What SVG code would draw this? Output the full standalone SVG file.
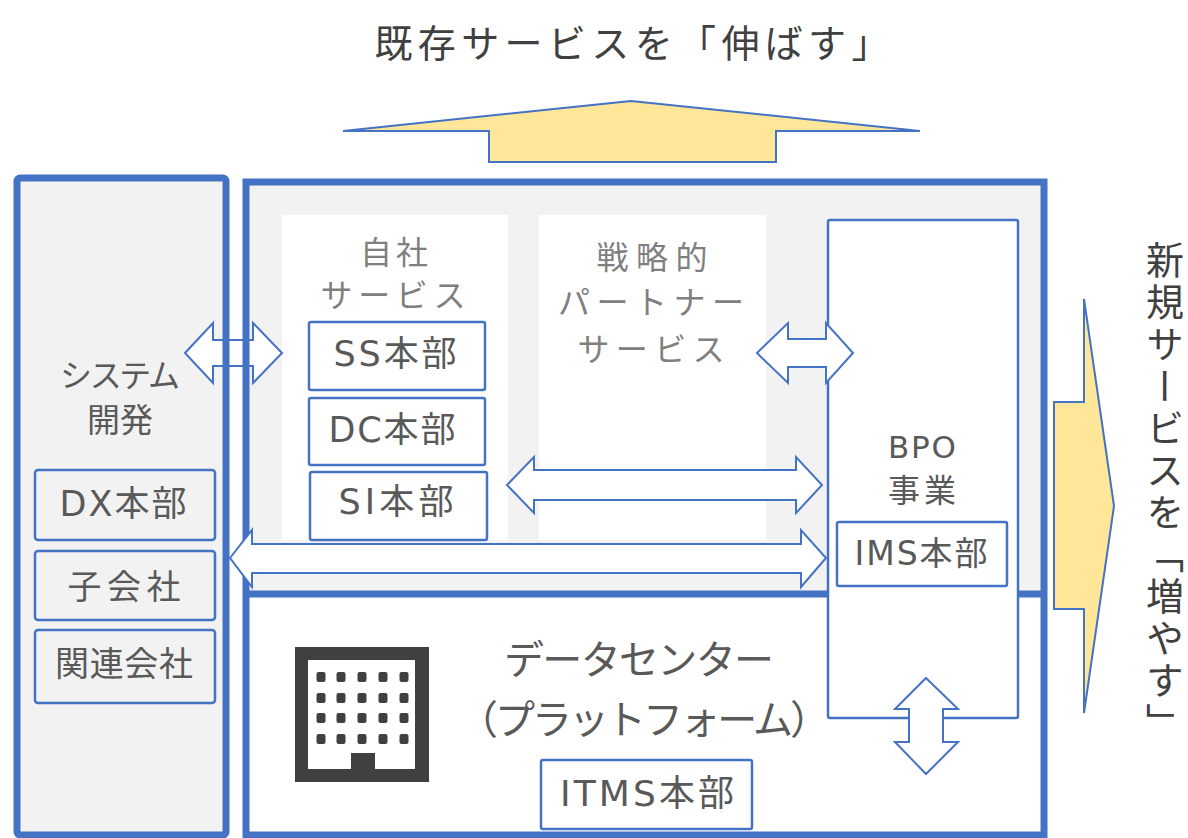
<svg xmlns="http://www.w3.org/2000/svg" width="1188" height="838" viewBox="0 0 1188 838">
<style>
text{font-family:"Noto Sans CJK JP","Noto Sans",sans-serif;text-anchor:middle;dominant-baseline:central}
.lat{font-family:"DejaVu Sans","Noto Sans CJK JP",sans-serif}
.frame{fill:none;stroke:#4472C4;stroke-width:7}
.box{stroke:#4472C4;stroke-width:2.5}
.wbox{fill:#fff}
.gbox{fill:#f2f2f2}
.lbl{fill:#595959;font-size:33px}
.hdr{fill:#7f7f7f;font-size:32px}
.dbl{fill:#fff;stroke:#4472C4;stroke-width:2}
.yel{fill:#FFE699;stroke:#4472C4;stroke-width:2;stroke-linejoin:miter}
.dot{fill:#404040}
</style>
<rect width="1188" height="838" fill="#fff"/>

<g id="title">
<text x="632" y="40" style="font-size:38px;fill:#404040" textLength="515" lengthAdjust="spacing">既存サービスを「伸ばす」</text>
</g>

<g id="system-dev">
<rect x="17" y="178" width="209" height="657" rx="3" fill="#f2f2f2"/>
</g>

<g id="platform-bg">
<rect x="246" y="182" width="798" height="412" fill="#f2f2f2"/>
<rect x="246" y="594" width="798" height="241" fill="#fff"/>
</g>

<g id="conn-a1-fill">
<polygon points="185,353 213,323 213,340 222.5,340 222.5,366 213,366 213,383" fill="#fff"/>
<polygon points="249.5,340 253,340 253,323 282,353 253,383 253,366 249.5,366" fill="#fff"/>
</g>

<g id="system-dev-frame">
<rect x="17" y="178" width="209" height="657" rx="3" class="frame"/>
<text x="120" y="373" class="lbl" style="font-size:32px" textLength="120" lengthAdjust="spacing">システム</text>
<text x="120" y="418" class="lbl" style="font-size:33px">開発</text>
</g>

<g id="dx">
<rect x="35" y="470" width="180" height="70" rx="3" class="box gbox"/>
<text x="123" y="504" class="lbl lat" style="font-size:35px" textLength="127" lengthAdjust="spacing">DX本部</text>
</g>
<g id="subsidiary">
<rect x="35" y="551" width="180" height="69" rx="3" class="box gbox"/>
<text x="124" y="584" class="lbl" style="font-size:34px" textLength="113" lengthAdjust="spacing">子会社</text>
</g>
<g id="affiliate">
<rect x="35" y="630" width="180" height="73" rx="3" class="box gbox"/>
<text x="124" y="661" class="lbl" style="font-size:34px" textLength="138" lengthAdjust="spacing">関連会社</text>
</g>

<g id="platform-frame">
<rect x="246" y="182" width="798" height="653" class="frame"/>
<line x1="246" y1="594" x2="1044" y2="594" stroke="#4472C4" stroke-width="7"/>
</g>

<g id="own-service">
<rect x="282" y="215" width="226" height="325" fill="#fff"/>
<text x="396" y="250" class="hdr" style="letter-spacing:4px">自社</text>
<text x="393" y="293" class="hdr" textLength="145" lengthAdjust="spacing">サービス</text>
</g>

<g id="ss">
<rect x="309" y="322" width="176" height="68" rx="2" class="box wbox"/>
<text x="395" y="354" class="lbl lat" style="font-size:35px" textLength="123" lengthAdjust="spacing">SS本部</text>
</g>
<g id="dc">
<rect x="309" y="398" width="176" height="67" rx="2" class="box wbox"/>
<text x="392" y="430" class="lbl lat" style="font-size:35px" textLength="127" lengthAdjust="spacing">DC本部</text>
</g>
<g id="si">
<rect x="310" y="472" width="177" height="68" rx="2" class="box wbox"/>
<text x="396" y="502" class="lbl lat" style="font-size:35px" textLength="115" lengthAdjust="spacing">SI本部</text>
</g>

<g id="partner-service">
<rect x="539" y="215" width="227" height="325" fill="#fff"/>
<text x="652" y="255" class="hdr" textLength="111" lengthAdjust="spacing">戦略的</text>
<text x="651" y="300" class="hdr" textLength="186" lengthAdjust="spacing">パートナー</text>
<text x="651" y="347" class="hdr" textLength="147" lengthAdjust="spacing">サービス</text>
</g>

<g id="bpo">
<rect x="828" y="220" width="190" height="498" rx="2" class="box wbox"/>
<text x="922" y="447" class="lbl lat" style="font-size:31px" textLength="68" lengthAdjust="spacing">BPO</text>
<text x="922" y="488" class="lbl" style="font-size:32px" textLength="68" lengthAdjust="spacing">事業</text>
</g>
<g id="ims">
<rect x="837" y="522" width="170" height="64" rx="2" class="box wbox"/>
<text x="921" y="553" class="lbl lat" style="font-size:33px" textLength="133" lengthAdjust="spacing">IMS本部</text>
</g>

<g id="datacenter">
<text x="639" y="657" style="font-size:40px;fill:#595959" textLength="270" lengthAdjust="spacing">データセンター</text>
<text x="644" y="717" style="font-size:40px;fill:#595959" textLength="372" lengthAdjust="spacing">（プラットフォーム）</text>
<g id="building-icon">
<rect x="295" y="647" width="134" height="135" fill="#404040"/>
<rect x="308" y="660" width="107" height="109" fill="#fff"/>
<rect x="351" y="753" width="24" height="17" fill="#404040"/>
<g class="dot">
<rect x="316.5" y="672" width="9" height="10" rx="2"/><rect x="336.5" y="672" width="9" height="10" rx="2"/><rect x="357.5" y="672" width="9" height="10" rx="2"/><rect x="378.5" y="672" width="9" height="10" rx="2"/><rect x="399.5" y="672" width="9" height="10" rx="2"/>
<rect x="316.5" y="693" width="9" height="10" rx="2"/><rect x="336.5" y="693" width="9" height="10" rx="2"/><rect x="357.5" y="693" width="9" height="10" rx="2"/><rect x="378.5" y="693" width="9" height="10" rx="2"/><rect x="399.5" y="693" width="9" height="10" rx="2"/>
<rect x="316.5" y="713" width="9" height="10" rx="2"/><rect x="336.5" y="713" width="9" height="10" rx="2"/><rect x="357.5" y="713" width="9" height="10" rx="2"/><rect x="378.5" y="713" width="9" height="10" rx="2"/><rect x="399.5" y="713" width="9" height="10" rx="2"/>
<rect x="316.5" y="734" width="9" height="10" rx="2"/><rect x="336.5" y="734" width="9" height="10" rx="2"/><rect x="357.5" y="734" width="9" height="10" rx="2"/><rect x="378.5" y="734" width="9" height="10" rx="2"/><rect x="399.5" y="734" width="9" height="10" rx="2"/>
</g>
</g>
</g>
<g id="itms">
<rect x="541" y="760" width="211" height="69" rx="2" class="box wbox"/>
<text x="647" y="793" class="lbl lat" style="font-size:36px" textLength="174" lengthAdjust="spacing">ITMS本部</text>
</g>

<g id="connectors">
<path d="M185,353 L213,323 L213,340 L253,340 L253,323 L282,353 L253,383 L253,366 L213,366 L213,383 Z" fill="none" stroke="#4472C4" stroke-width="2"/>
<polygon class="dbl" points="757,353 788,323 788,339 826,339 826,323 853,353 826,383 826,367 788,367 788,383"/>
<polygon class="dbl" points="507,485 534,457 534,470 796,470 796,457 822,485 796,513 796,500 534,500 534,513"/>
<polygon class="dbl" points="230,558 252,530 252,544 801,544 801,530 826,558 801,587 801,573 252,573 252,587"/>
<polygon class="dbl" points="926,678 958,709 943,709 943,742 958,742 926,774 895,742 909,742 909,709 895,709"/>
</g>

<g id="grow-existing-arrow">
<polygon class="yel" points="343,131 631,101 920,131 776,131 776,162 489,162 489,131"/>
</g>

<g id="grow-new-arrow">
<polygon class="yel" points="1054,402 1084,402 1084,299 1114,506 1084,713 1084,609 1054,609"/>
</g>

<g id="new-services-label">
<text x="1165" y="241" style="font-size:38px;fill:#404040;writing-mode:vertical-rl;text-anchor:start;letter-spacing:4px">新規サービスを「増やす」</text>
</g>
</svg>
